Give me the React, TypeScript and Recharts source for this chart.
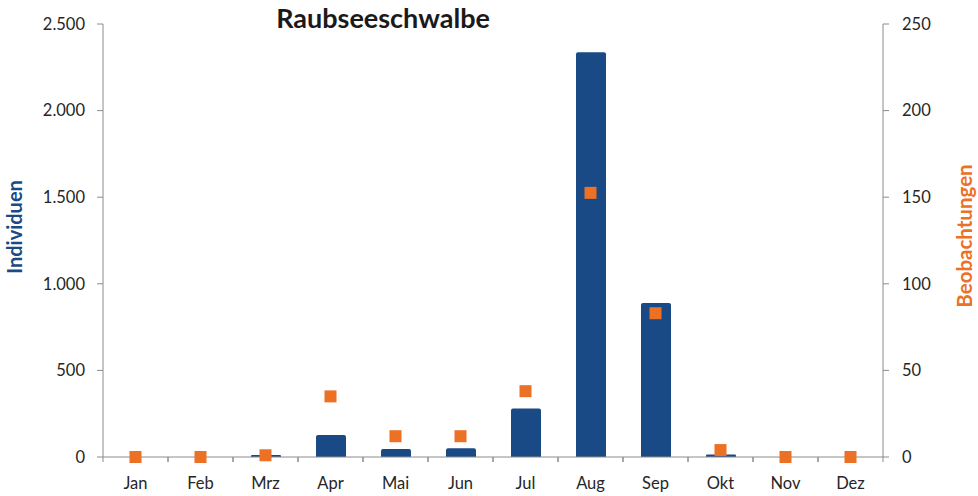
import React from 'react';
import { ComposedChart, Bar, Scatter, XAxis, YAxis } from 'recharts';

const months = ['Jan', 'Feb', 'Mrz', 'Apr', 'Mai', 'Jun', 'Jul', 'Aug', 'Sep', 'Okt', 'Nov', 'Dez'];
const individuen = [0, 0, 12, 127, 46, 50, 280, 2337, 889, 15, 0, 0];
const beobachtungen = [0, 0, 1, 35, 12, 12, 38, 152.5, 83, 4, 0, 0];
const leftTicks = [0, 500, 1000, 1500, 2000, 2500];
const rightTicks = [0, 50, 100, 150, 200, 250];

const data = months.map((m, i) => ({ month: m, ind: individuen[i], beo: beobachtungen[i] }));

const BLUE = '#1A4A86';
const ORANGE = '#EC7125';
const AXIS = '#8C8C8C';
const TXT = '#262626';
const FONT = 'Lato, "Liberation Sans", sans-serif';

const fmt = (v: number) => v.toLocaleString('de-DE');

const XTick = (props: any) => {
  const { x, y, payload } = props;
  const half = 32.5;
  return (
    <g>
      <line x1={x - half} y1={y} x2={x - half} y2={y + 5} stroke={AXIS} />
      <line x1={x + half} y1={y} x2={x + half} y2={y + 5} stroke={AXIS} />
      <text x={x} y={y + 32} textAnchor="middle" fontSize={16.5} fill={TXT} fontFamily={FONT}>
        {payload.value}
      </text>
    </g>
  );
};

const SquareShape = (props: any) => {
  const { cx, cy } = props;
  if (cx == null || cy == null) return null;
  return <rect x={cx - 6} y={cy - 6} width={12} height={12} fill={ORANGE} />;
};

export default function App() {
  return (
    <div style={{ position: 'absolute', left: 0, top: 0, width: 978, height: 496, background: '#fff' }}>
      <ComposedChart
        width={978}
        height={496}
        data={data}
        margin={{ top: 24, right: 0, bottom: 0, left: 0 }}
        barCategoryGap={0}
      >
        <text x={383} y={28} textAnchor="middle" fontSize={27} fontWeight="bold" fill="#1a1a1a" fontFamily={FONT}>
          Raubseeschwalbe
        </text>
        <XAxis
          dataKey="month"
          height={39}
          tickSize={0}
          tickMargin={0}
          tickLine={false}
          stroke={AXIS}
          tick={<XTick />}
          interval={0}
        />
        <YAxis
          yAxisId="left"
          orientation="left"
          width={103}
          domain={[0, 2500]}
          ticks={leftTicks}
          tickFormatter={fmt}
          tickSize={6}
          tickMargin={12}
          stroke={AXIS}
          tick={{ fill: TXT, fontSize: 16.5, fontFamily: FONT }}
          label={{
            content: () => (
              <text
                x={22}
                y={227}
                transform="rotate(-90 22 227)"
                textAnchor="middle"
                fontSize={20}
                fontWeight="bold"
                fill={BLUE}
                fontFamily={FONT}
              >
                Individuen
              </text>
            ),
          }}
        />
        <YAxis
          yAxisId="right"
          orientation="right"
          width={95}
          domain={[0, 250]}
          ticks={rightTicks}
          tickSize={6}
          tickMargin={13}
          stroke={AXIS}
          tick={{ fill: TXT, fontSize: 16.5, fontFamily: FONT, textAnchor: 'start' }}
          label={{
            content: () => (
              <text
                x={972}
                y={236}
                transform="rotate(-90 972 236)"
                textAnchor="middle"
                fontSize={20.5}
                fontWeight="bold"
                fill={ORANGE}
                fontFamily={FONT}
              >
                Beobachtungen
              </text>
            ),
          }}
        />
        <Bar yAxisId="left" dataKey="ind" fill={BLUE} barSize={30} radius={[2, 2, 0, 0]} isAnimationActive={false} />
        <Scatter yAxisId="right" dataKey="beo" fill={ORANGE} shape={<SquareShape />} isAnimationActive={false} />
      </ComposedChart>
    </div>
  );
}
